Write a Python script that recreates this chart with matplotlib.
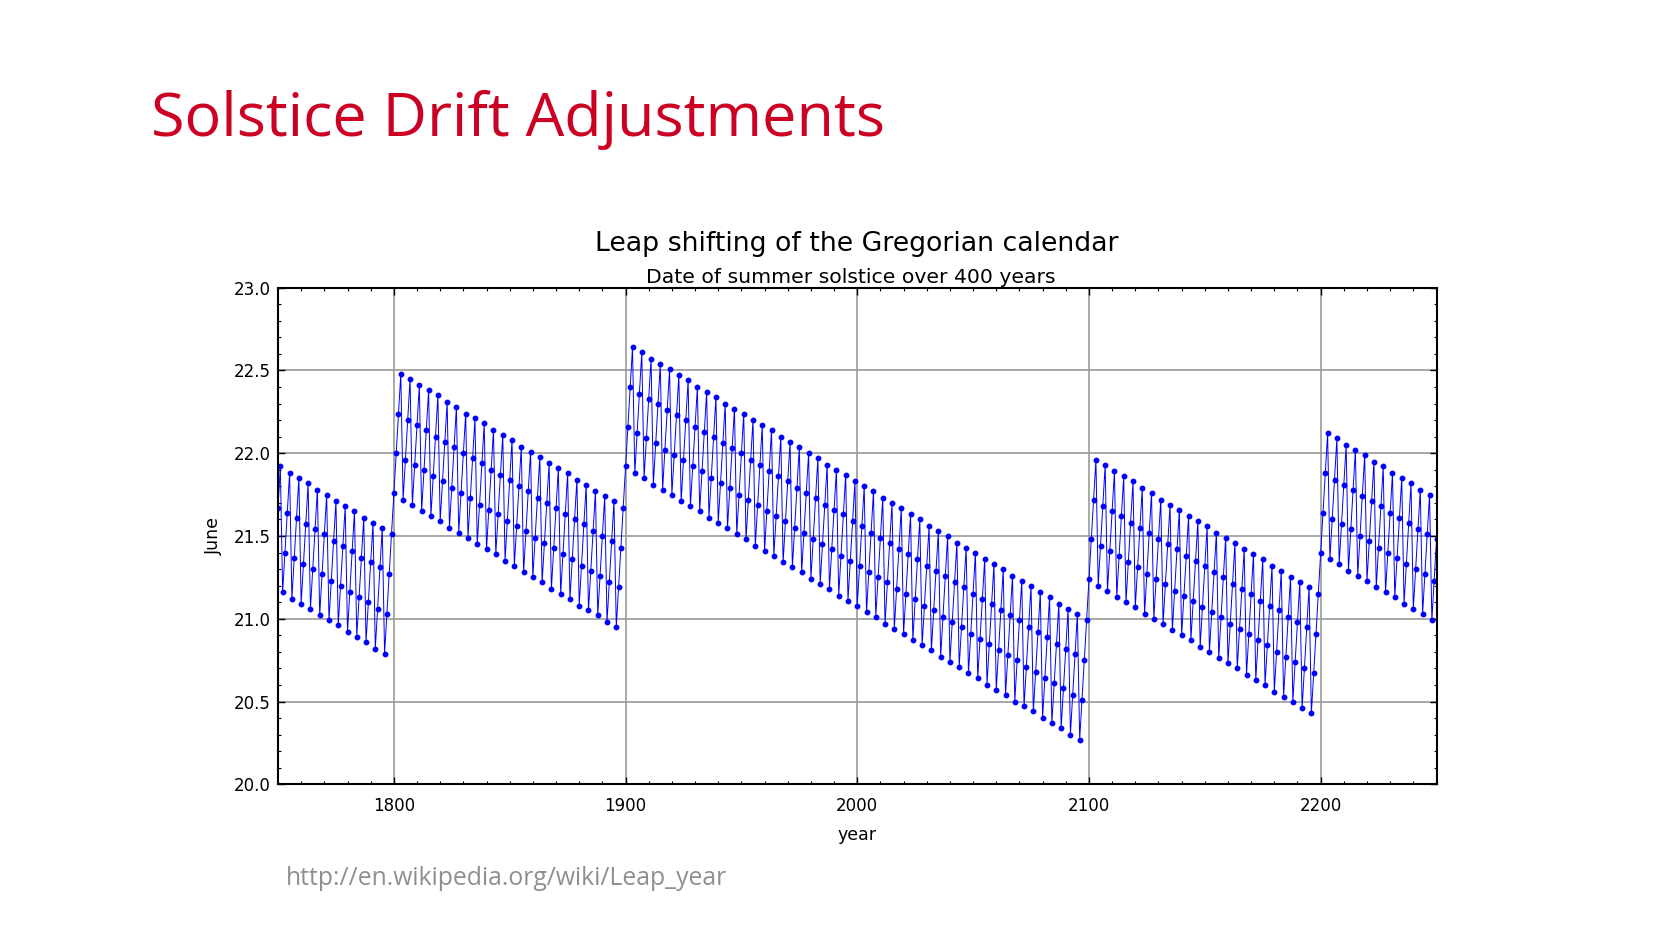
import numpy as np
import matplotlib
matplotlib.use("Agg")
import matplotlib.pyplot as plt
from matplotlib.ticker import MultipleLocator

# date in June of the summer solstice, one value per year
years = np.arange(1750, 2251)

june_1750 = [21.67, 21.92,
             21.16, 21.40, 21.64, 21.88,  21.12, 21.37, 21.61, 21.85,
             21.09, 21.33, 21.57, 21.82,  21.06, 21.30, 21.54, 21.78,
             21.02, 21.27, 21.51, 21.75,  20.99, 21.23, 21.47, 21.71,
             20.96, 21.20, 21.44, 21.68,  20.92, 21.16, 21.41, 21.65,
             20.89, 21.13, 21.37, 21.61,  20.86, 21.10, 21.34, 21.58,
             20.82, 21.06, 21.31, 21.55,  20.79, 21.03, 21.27, 21.51]

june_1800 = [21.76, 22.00, 22.24, 22.48,  21.72, 21.96, 22.20, 22.45,
             21.69, 21.93, 22.17, 22.41,  21.65, 21.90, 22.14, 22.38,
             21.62, 21.86, 22.10, 22.35,  21.59, 21.83, 22.07, 22.31,
             21.55, 21.79, 22.04, 22.28,  21.52, 21.76, 22.00, 22.24,
             21.49, 21.73, 21.97, 22.21,  21.45, 21.69, 21.94, 22.18,
             21.42, 21.66, 21.90, 22.14,  21.39, 21.63, 21.87, 22.11,
             21.35, 21.59, 21.84, 22.08,  21.32, 21.56, 21.80, 22.04,
             21.28, 21.53, 21.77, 22.01,  21.25, 21.49, 21.73, 21.98,
             21.22, 21.46, 21.70, 21.94,  21.18, 21.43, 21.67, 21.91,
             21.15, 21.39, 21.63, 21.88,  21.12, 21.36, 21.60, 21.84,
             21.08, 21.32, 21.57, 21.81,  21.05, 21.29, 21.53, 21.77,
             21.02, 21.26, 21.50, 21.74,  20.98, 21.22, 21.47, 21.71,
             20.95, 21.19, 21.43, 21.67]

june_1900 = [21.92, 22.16, 22.40, 22.64,  21.88, 22.12, 22.36, 22.61,
             21.85, 22.09, 22.33, 22.57,  21.81, 22.06, 22.30, 22.54,
             21.78, 22.02, 22.26, 22.51,  21.75, 21.99, 22.23, 22.47,
             21.71, 21.96, 22.20, 22.44,  21.68, 21.92, 22.16, 22.40,
             21.65, 21.89, 22.13, 22.37,  21.61, 21.85, 22.10, 22.34,
             21.58, 21.82, 22.06, 22.30,  21.55, 21.79, 22.03, 22.27,
             21.51, 21.75, 22.00, 22.24,  21.48, 21.72, 21.96, 22.20,
             21.44, 21.69, 21.93, 22.17,  21.41, 21.65, 21.89, 22.14,
             21.38, 21.62, 21.86, 22.10,  21.34, 21.59, 21.83, 22.07,
             21.31, 21.55, 21.79, 22.04,  21.28, 21.52, 21.76, 22.00,
             21.24, 21.48, 21.73, 21.97,  21.21, 21.45, 21.69, 21.93,
             21.18, 21.42, 21.66, 21.90,  21.14, 21.38, 21.63, 21.87,
             21.11, 21.35, 21.59, 21.83]

june_2000 = [21.08, 21.32, 21.56, 21.80,  21.04, 21.28, 21.52, 21.77,
             21.01, 21.25, 21.49, 21.73,  20.97, 21.22, 21.46, 21.70,
             20.94, 21.18, 21.42, 21.67,  20.91, 21.15, 21.39, 21.63,
             20.87, 21.12, 21.36, 21.60,  20.84, 21.08, 21.32, 21.56,
             20.81, 21.05, 21.29, 21.53,  20.77, 21.01, 21.26, 21.50,
             20.74, 20.98, 21.22, 21.46,  20.71, 20.95, 21.19, 21.43,
             20.67, 20.91, 21.15, 21.40,  20.64, 20.88, 21.12, 21.36,
             20.60, 20.85, 21.09, 21.33,  20.57, 20.81, 21.05, 21.30,
             20.54, 20.78, 21.02, 21.26,  20.50, 20.75, 20.99, 21.23,
             20.47, 20.71, 20.95, 21.20,  20.44, 20.68, 20.92, 21.16,
             20.40, 20.64, 20.89, 21.13,  20.37, 20.61, 20.85, 21.09,
             20.34, 20.58, 20.82, 21.06,  20.30, 20.54, 20.79, 21.03,
             20.27, 20.51, 20.75, 20.99]

june_2100 = [21.24, 21.48, 21.72, 21.96,  21.20, 21.44, 21.68, 21.93,
             21.17, 21.41, 21.65, 21.89,  21.13, 21.38, 21.62, 21.86,
             21.10, 21.34, 21.58, 21.83,  21.07, 21.31, 21.55, 21.79,
             21.03, 21.27, 21.52, 21.76,  21.00, 21.24, 21.48, 21.72,
             20.97, 21.21, 21.45, 21.69,  20.93, 21.17, 21.42, 21.66,
             20.90, 21.14, 21.38, 21.62,  20.87, 21.11, 21.35, 21.59,
             20.83, 21.07, 21.32, 21.56,  20.80, 21.04, 21.28, 21.52,
             20.76, 21.01, 21.25, 21.49,  20.73, 20.97, 21.21, 21.46,
             20.70, 20.94, 21.18, 21.42,  20.66, 20.91, 21.15, 21.39,
             20.63, 20.87, 21.11, 21.36,  20.60, 20.84, 21.08, 21.32,
             20.56, 20.80, 21.05, 21.29,  20.53, 20.77, 21.01, 21.25,
             20.50, 20.74, 20.98, 21.22,  20.46, 20.70, 20.95, 21.19,
             20.43, 20.67, 20.91, 21.15]

june_2200 = [21.40, 21.64, 21.88, 22.12,  21.36, 21.60, 21.84, 22.09,
             21.33, 21.57, 21.81, 22.05,  21.29, 21.54, 21.78, 22.02,
             21.26, 21.50, 21.74, 21.99,  21.23, 21.47, 21.71, 21.95,
             21.19, 21.43, 21.68, 21.92,  21.16, 21.40, 21.64, 21.88,
             21.13, 21.37, 21.61, 21.85,  21.09, 21.33, 21.58, 21.82,
             21.06, 21.30, 21.54, 21.78,  21.03, 21.27, 21.51, 21.75,
             20.99, 21.23, 21.48]

june = np.array(june_1750 + june_1800 + june_1900 + june_2000 + june_2100 + june_2200)
assert len(june) == len(years)

W, H = 1654, 931
fig = plt.figure(figsize=(W / 100, H / 100), dpi=100)
fig.patch.set_facecolor("white")

# slide heading and source line
fig.text(151 / W, 1 - 135.5 / H, "Solstice Drift Adjustments", color="#cc0022",
         fontsize=44, family="Open Sans", va="baseline", ha="left")
fig.text(286 / W, 1 - 885 / H, "http://en.wikipedia.org/wiki/Leap_year", color="#8f8f8f",
         fontsize=17.8, family="Open Sans", va="baseline", ha="left")

chart_font = "DejaVu Sans"

ax = fig.add_axes([278 / W, 1 - 784.3 / H, (1436.5 - 278) / W, (784.3 - 287.7) / H])
ax.plot(years, june, "-", color="#0000ff", lw=0.7, marker="o", ms=3.2, mec="#0000ff")

ax.set_xlim(1750, 2250)
ax.set_ylim(20.0, 23.0)
ax.xaxis.set_major_locator(MultipleLocator(100))
ax.xaxis.set_minor_locator(MultipleLocator(10))
ax.yaxis.set_major_locator(MultipleLocator(0.5))
ax.yaxis.set_minor_locator(MultipleLocator(0.1))
ax.yaxis.set_major_formatter(matplotlib.ticker.FormatStrFormatter("%.1f"))
ax.grid(True, which="major", color="#999999", lw=1.2)
ax.set_axisbelow(True)

for s in ax.spines.values():
    s.set_linewidth(1.5)
ax.tick_params(which="both", direction="in", top=True, right=True, colors="black",
               labelsize=12)
ax.tick_params(which="major", length=5, width=1)
ax.tick_params(which="minor", length=2.5, width=0.8)
ax.tick_params(axis="x", pad=9)
ax.tick_params(axis="y", pad=5)
for lab in ax.get_xticklabels() + ax.get_yticklabels():
    lab.set_family(chart_font)

ax.set_xlabel("year", fontsize=12.5, labelpad=8, family=chart_font)
ax.set_ylabel("June", fontsize=12.5, labelpad=8, family=chart_font)
ax.set_title("Date of summer solstice over 400 years", fontsize=14.7, pad=3.6, family=chart_font)
ax.title.set_x(0.494)
fig.text((278 + 1436.5) / 2 / W, 1 - 250.7 / H, "Leap shifting of the Gregorian calendar",
         fontsize=19.3, ha="center", va="baseline", family=chart_font)

fig.savefig("out.png", dpi=100)
